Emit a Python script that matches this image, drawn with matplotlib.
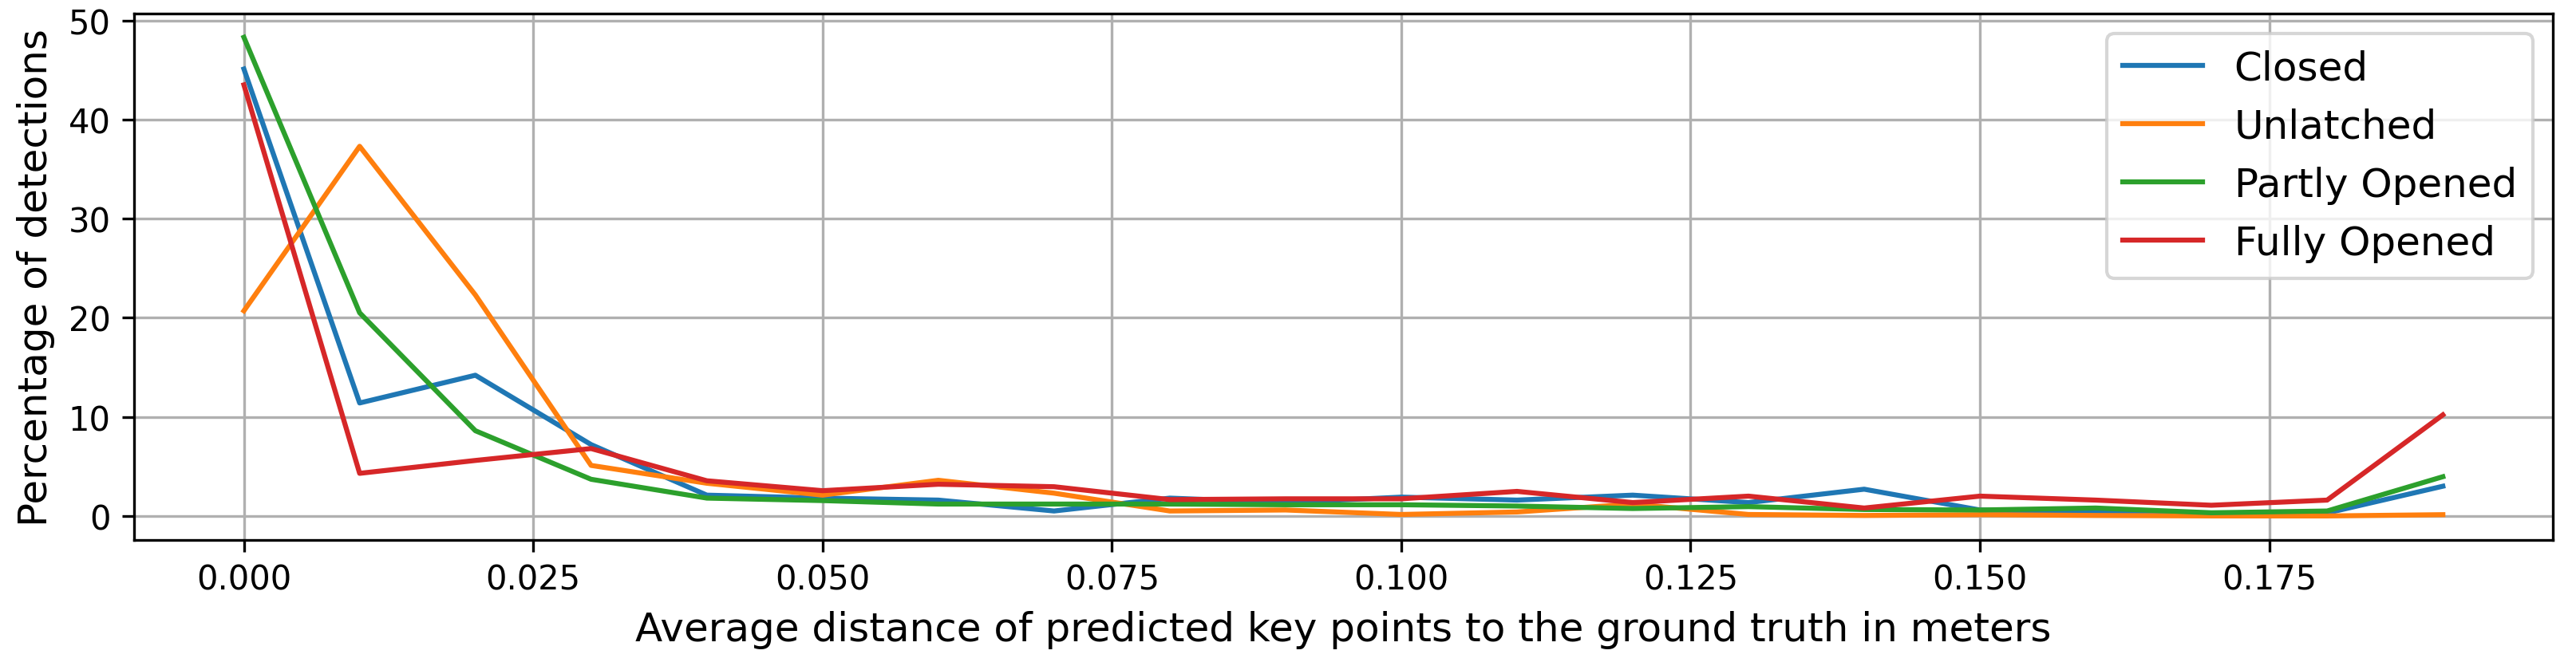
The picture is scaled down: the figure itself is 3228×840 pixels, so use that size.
import matplotlib
matplotlib.use("Agg")
import matplotlib.pyplot as plt

# average key-point distance bins (m)
distances = [0.00, 0.01, 0.02, 0.03, 0.04, 0.05, 0.06, 0.07, 0.08, 0.09,
             0.10, 0.11, 0.12, 0.13, 0.14, 0.15, 0.16, 0.17, 0.18, 0.19]

# percentage of detections per state
closed = [45.1, 11.4, 14.2, 7.2, 2.1, 1.8, 1.6, 0.5, 1.8, 1.35,
          1.9, 1.6, 2.1, 1.35, 2.7, 0.6, 0.4, 0.3, 0.3, 3.0]
unlatched = [20.7, 37.3, 22.3, 5.1, 3.3, 2.1, 3.6, 2.3, 0.5, 0.6,
             0.15, 0.4, 1.2, 0.15, 0.05, 0.13, 0.05, 0.0, 0.0, 0.13]
partly_opened = [48.3, 20.5, 8.6, 3.7, 1.8, 1.55, 1.2, 1.2, 1.2, 1.13,
                 1.13, 1.0, 0.75, 0.94, 0.65, 0.6, 0.8, 0.32, 0.5, 3.96]
fully_opened = [43.5, 4.3, 5.6, 6.8, 3.55, 2.55, 3.2, 2.95, 1.65, 1.73,
                1.73, 2.48, 1.35, 2.0, 0.8, 2.0, 1.6, 1.08, 1.6, 10.2]

series = {
    "Closed": closed,
    "Unlatched": unlatched,
    "Partly Opened": partly_opened,
    "Fully Opened": fully_opened,
}

fig, ax = plt.subplots(figsize=(10.76, 2.803), dpi=300)

for label, values in series.items():
    ax.plot(distances, values, linewidth=1.5, label=label)

ax.grid(True)
ax.set_xlabel("Average distance of predicted key points to the ground truth in meters", fontsize=12)
ax.set_ylabel("Percentage of detections", fontsize=12)
ax.legend(fontsize=12, loc="upper right")

fig.subplots_adjust(left=0.052, right=0.991, top=0.979, bottom=0.194)
fig.savefig("out.png", dpi=300)
